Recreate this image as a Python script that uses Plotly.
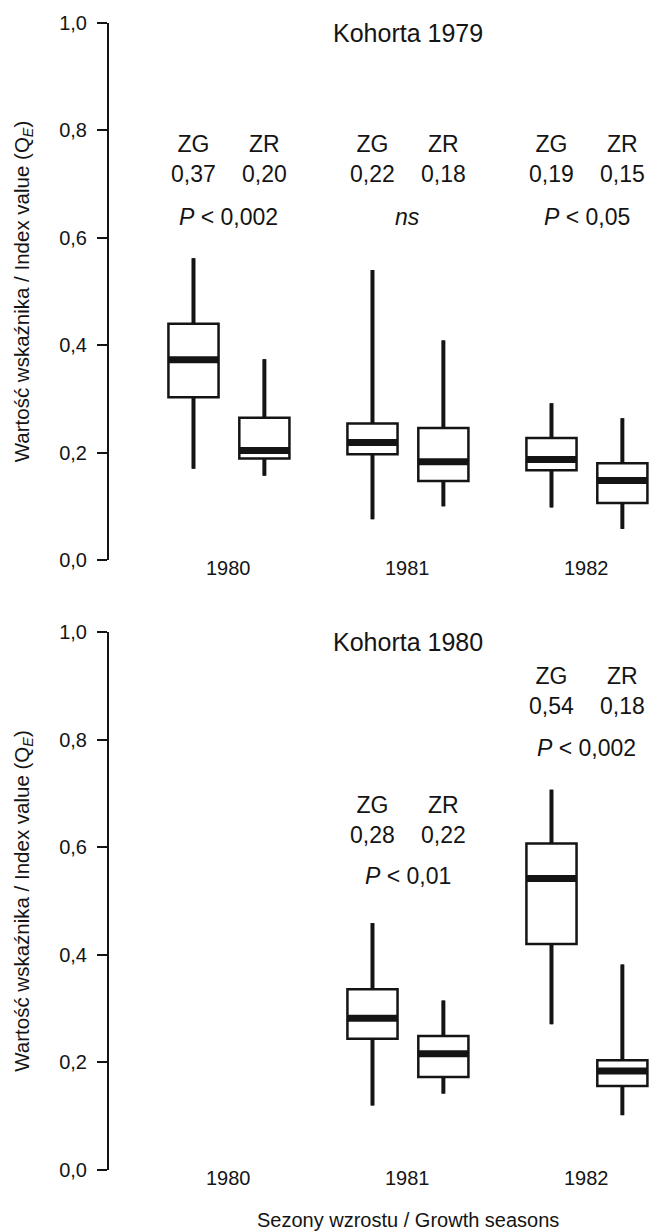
import plotly.graph_objects as go

# ---------------- data ----------------
seasons = ["1980", "1981", "1982"]
groups = ["ZG", "ZR"]

# Kohorta 1979 (top panel), seasons 1980-1982
k1979_seasons = ["1980", "1981", "1982"]
k1979_zg_low = [0.170, 0.076, 0.098]
k1979_zg_q1 = [0.303, 0.197, 0.167]
k1979_zg_med = [0.373, 0.219, 0.187]
k1979_zg_q3 = [0.440, 0.254, 0.227]
k1979_zg_high = [0.562, 0.540, 0.292]
k1979_zr_low = [0.157, 0.100, 0.058]
k1979_zr_q1 = [0.189, 0.147, 0.106]
k1979_zr_med = [0.204, 0.183, 0.148]
k1979_zr_q3 = [0.265, 0.246, 0.180]
k1979_zr_high = [0.374, 0.409, 0.264]
k1979_zg_mean = [0.37, 0.22, 0.19]
k1979_zr_mean = [0.20, 0.18, 0.15]
k1979_p = ["<i>P</i> < 0,002", "<i>ns</i>", "<i>P</i> < 0,05"]

# Kohorta 1980 (bottom panel), seasons 1981-1982
k1980_seasons = ["1981", "1982"]
k1980_zg_low = [0.120, 0.271]
k1980_zg_q1 = [0.244, 0.420]
k1980_zg_med = [0.282, 0.542]
k1980_zg_q3 = [0.336, 0.607]
k1980_zg_high = [0.459, 0.707]
k1980_zr_low = [0.142, 0.102]
k1980_zr_q1 = [0.173, 0.156]
k1980_zr_med = [0.216, 0.184]
k1980_zr_q3 = [0.249, 0.204]
k1980_zr_high = [0.315, 0.382]
k1980_zg_mean = [0.28, 0.54]
k1980_zr_mean = [0.22, 0.18]
k1980_p = ["<i>P</i> < 0,01", "<i>P</i> < 0,002"]

panel_titles = ["Kohorta 1979", "Kohorta 1980"]
y_ticks = [0.0, 0.2, 0.4, 0.6, 0.8, 1.0]
y_tick_labels = ["0,0", "0,2", "0,4", "0,6", "0,8", "1,0"]
y_title = "Wartość wskaźnika / Index value (Q<sub><i>E</i></sub>)"
x_title = "Sezony wzrostu / Growth seasons"

# ---------------- style ----------------
INK = "#141414"
FONT = "Liberation Sans, Arial, Helvetica, sans-serif"
OFFSET = {"ZG": -0.198, "ZR": 0.198}
BOX_W = 0.28

fig = go.Figure()


def comma(v):
    return f"{v:.2f}".replace(".", ",")


def add_panel(xa, ya, seas, data):
    for g in groups:
        low, q1, med, q3, high = data[g]
        xs = [seasons.index(s) + OFFSET[g] for s in seas]
        fig.add_trace(go.Box(
            x=xs, q1=q1, median=med, q3=q3, lowerfence=low, upperfence=high,
            width=BOX_W, whiskerwidth=0, fillcolor="white",
            line=dict(color=INK, width=2.5), boxpoints=False,
            xaxis=xa, yaxis=ya, showlegend=False, hoverinfo="skip"))
        wx, wy = [], []
        for x, lo, a, b, hi in zip(xs, low, q1, q3, high):
            wx += [x, x, None, x, x, None]
            wy += [lo, a, None, b, hi, None]
        fig.add_trace(go.Scatter(x=wx, y=wy, mode="lines",
                                 line=dict(color=INK, width=4),
                                 xaxis=xa, yaxis=ya, showlegend=False, hoverinfo="skip"))
        mx, my = [], []
        for x, m in zip(xs, med):
            mx += [x - BOX_W / 2, x + BOX_W / 2, None]
            my += [m, m, None]
        fig.add_trace(go.Scatter(x=mx, y=my, mode="lines",
                                 line=dict(color=INK, width=7),
                                 xaxis=xa, yaxis=ya, showlegend=False, hoverinfo="skip"))


add_panel("x", "y", k1979_seasons, {
    "ZG": (k1979_zg_low, k1979_zg_q1, k1979_zg_med, k1979_zg_q3, k1979_zg_high),
    "ZR": (k1979_zr_low, k1979_zr_q1, k1979_zr_med, k1979_zr_q3, k1979_zr_high)})
add_panel("x2", "y2", k1980_seasons, {
    "ZG": (k1980_zg_low, k1980_zg_q1, k1980_zg_med, k1980_zg_q3, k1980_zg_high),
    "ZR": (k1980_zr_low, k1980_zr_q1, k1980_zr_med, k1980_zr_q3, k1980_zr_high)})

ann = []
big = dict(family=FONT, size=23, color=INK)


def panel_text(xr, yr, seas, zg_mean, zr_mean, ptxt, y_lbl, y_p, title):
    ann.append(dict(x=1, y=0.982, xref=xr, yref=yr, text=title, showarrow=False,
                    font=dict(family=FONT, size=25, color=INK), yanchor="middle"))
    for s in seasons:
        ann.append(dict(x=seasons.index(s), y=0, xref=xr, yref=yr, text=s, showarrow=False,
                        yshift=-8, yanchor="middle", font=dict(family=FONT, size=20, color=INK)))
    for i, s in enumerate(seas):
        c = seasons.index(s)
        ann.append(dict(x=c + OFFSET["ZG"], y=y_lbl[i], xref=xr, yref=yr,
                        text="ZG<br>" + comma(zg_mean[i]), showarrow=False,
                        yanchor="middle", font=big))
        ann.append(dict(x=c + OFFSET["ZR"], y=y_lbl[i], xref=xr, yref=yr,
                        text="ZR<br>" + comma(zr_mean[i]), showarrow=False,
                        yanchor="middle", font=big))
        ann.append(dict(x=c, y=y_p[i], xref=xr, yref=yr, text=ptxt[i], showarrow=False,
                        yanchor="middle", font=big))


panel_text("x", "y", k1979_seasons, k1979_zg_mean, k1979_zr_mean, k1979_p,
           [0.7465, 0.7465, 0.7465], [0.639, 0.639, 0.639], panel_titles[0])
panel_text("x2", "y2", k1980_seasons, k1980_zg_mean, k1980_zr_mean, k1980_p,
           [0.650, 0.8895], [0.547, 0.785], panel_titles[1])

ann.append(dict(x=1, y=0, xref="x2", yref="paper", text=x_title, showarrow=False,
                yshift=-50, yanchor="middle", font=dict(family=FONT, size=20, color=INK)))

yax = dict(range=[0, 1], tickvals=y_ticks, ticktext=y_tick_labels, showline=True,
           linecolor=INK, linewidth=2, ticks="outside", ticklen=10, tickwidth=2,
           tickcolor=INK, showgrid=False, zeroline=False, ticklabelstandoff=6,
           tickfont=dict(family=FONT, size=20, color=INK),
           title=dict(text=y_title, font=dict(family=FONT, size=20.5, color=INK), standoff=24))
xax = dict(range=[-0.67, 2.358], visible=False)

fig.update_layout(
    width=651, height=1232, autosize=False,
    margin=dict(l=109, r=0, t=23, b=62),
    paper_bgcolor="white", plot_bgcolor="white",
    font=dict(family=FONT, color=INK),
    xaxis=dict(xax, domain=[0, 1], anchor="y"),
    yaxis=dict(yax, domain=[0.5318, 1], anchor="x"),
    xaxis2=dict(xax, domain=[0, 1], anchor="y2"),
    yaxis2=dict(yax, domain=[0, 0.469], anchor="x2"),
    annotations=ann,
    showlegend=False,
)

fig.write_html("out.html", config={"displayModeBar": False},
               post_script="document.body.style.margin='0';document.body.style.overflow='hidden';")
